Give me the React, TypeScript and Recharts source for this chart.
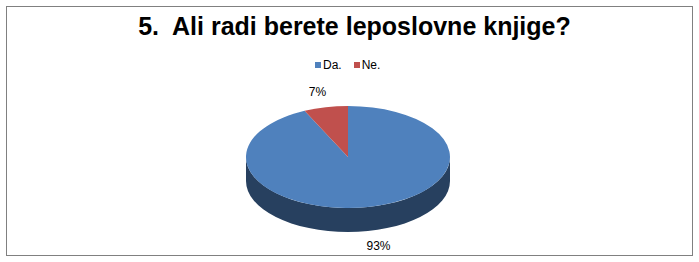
import React from "react";
import { PieChart, Pie, Cell } from "recharts";

// Survey answers
const CATEGORIES = ["Da.", "Ne."];
const VALUES = [93, 7];
const TOP_COLORS = ["#4F81BD", "#C0504D"];
const SIDE_COLORS = ["#27405F", "#7E3432"];
const TITLE = "5.  Ali radi berete leposlovne knjige?";

const data = CATEGORIES.map((name, i) => ({ name, value: VALUES[i] }));

const W = 699;
const H = 262;
const TILT = 0.5; // vertical squash of the pie disc
const DEPTH = 24; // thickness of the disc
const FONT = '"Liberation Sans", Arial, sans-serif';

function pt(cx: number, cy: number, rx: number, ry: number, a: number) {
  const r = (a * Math.PI) / 180;
  return [cx + rx * Math.cos(r), cy - ry * Math.sin(r)];
}

// Elliptical sector with a visible front wall
function Slice3D(props: any) {
  const { cx, cy, outerRadius, startAngle, endAngle, fill, payload } = props;
  const rx = outerRadius;
  const ry = outerRadius * TILT;
  const idx = CATEGORIES.indexOf(payload?.name ?? props.name);
  const side = SIDE_COLORS[idx >= 0 ? idx : 0];
  const lo = Math.min(startAngle, endAngle);
  const hi = Math.max(startAngle, endAngle);

  const walls: string[] = [];
  for (let k = -2; k <= 2; k++) {
    const f0 = 180 + 360 * k;
    const f1 = 360 + 360 * k;
    const s = Math.max(lo, f0);
    const e = Math.min(hi, f1);
    if (e > s) {
      const [x1, y1] = pt(cx, cy, rx, ry, s);
      const [x2, y2] = pt(cx, cy, rx, ry, e);
      const large = e - s > 180 ? 1 : 0;
      walls.push(
        `M${x1},${y1} A${rx},${ry} 0 ${large} 0 ${x2},${y2} L${x2},${y2 + DEPTH} A${rx},${ry} 0 ${large} 1 ${x1},${y1 + DEPTH} Z`
      );
    }
  }

  const [sx, sy] = pt(cx, cy, rx, ry, startAngle);
  const [ex, ey] = pt(cx, cy, rx, ry, endAngle);
  const large = hi - lo > 180 ? 1 : 0;
  const sweep = startAngle > endAngle ? 1 : 0;
  const top = `M${cx},${cy} L${sx},${sy} A${rx},${ry} 0 ${large} ${sweep} ${ex},${ey} Z`;

  return (
    <g>
      {walls.map((d, i) => (
        <path key={i} d={d} fill={side} stroke="none" />
      ))}
      <path d={top} fill={fill} stroke="none" />
    </g>
  );
}

function renderLabel(props: any) {
  const { cx, cy, midAngle, percent } = props;
  const r = (midAngle * Math.PI) / 180;
  const s = Math.sin(r);
  const x = cx + 140 * Math.cos(r);
  const y = cy - 67 * s + (s < 0 ? DEPTH : 0);
  return (
    <text
      x={x}
      y={y}
      textAnchor="middle"
      dominantBaseline="central"
      fontFamily={FONT}
      fontSize={12}
      fill="#000"
    >
      {`${Math.round(percent * 100)}%`}
    </text>
  );
}

export default function App() {
  return (
    <div style={{ position: "absolute", left: 0, top: 0, width: W, height: H, background: "#fff" }}>
      <div
        style={{
          position: "absolute",
          left: 6,
          top: 6,
          width: 685,
          height: 248,
          border: "1px solid #808080",
        }}
      />
      <div
        style={{
          position: "absolute",
          left: 0,
          top: 12,
          width: 709,
          textAlign: "center",
          fontFamily: FONT,
          fontWeight: "bold",
          fontSize: 25,
          whiteSpace: "pre",
          color: "#000",
        }}
      >
        {TITLE}
      </div>
      <div
        style={{
          position: "absolute",
          left: 315,
          top: 58,
          display: "flex",
          alignItems: "center",
          fontFamily: FONT,
          fontSize: 12,
          color: "#000",
        }}
      >
        {CATEGORIES.map((c, i) => (
          <div key={c} style={{ display: "flex", alignItems: "center", marginRight: 12 }}>
            <span style={{ width: 6, height: 6, background: TOP_COLORS[i], marginRight: 2, display: "inline-block" }} />
            <span>{c}</span>
          </div>
        ))}
      </div>
      <div style={{ position: "absolute", left: 0, top: 0 }}>
        <PieChart width={W} height={H} margin={{ top: 0, right: 0, bottom: 0, left: 0 }}>
          <Pie
            data={data}
            dataKey="value"
            nameKey="name"
            cx={348}
            cy={157}
            outerRadius={102}
            startAngle={90}
            endAngle={-270}
            stroke="none"
            isAnimationActive={false}
            shape={Slice3D}
            label={renderLabel}
            labelLine={false}
          >
            {data.map((d, i) => (
              <Cell key={d.name} fill={TOP_COLORS[i]} />
            ))}
          </Pie>
        </PieChart>
      </div>
    </div>
  );
}
